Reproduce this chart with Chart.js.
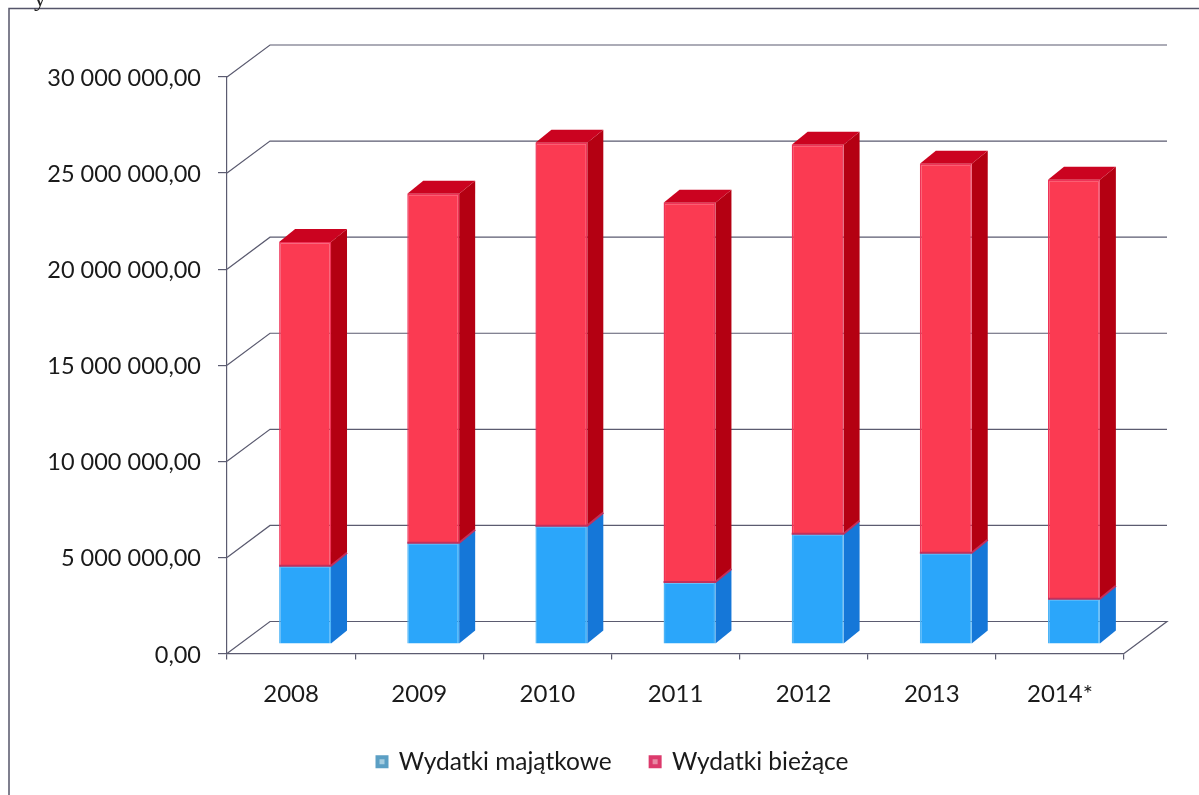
<!DOCTYPE html>
<html>
<head>
<meta charset="utf-8">
<style>
  html, body { margin: 0; padding: 0; background: #fff; }
  #wrap { width: 1199px; height: 795px; }
</style>
<script src="https://cdn.jsdelivr.net/npm/chart.js@4/dist/chart.umd.min.js"></script>
</head>
<body>
<div id="wrap"><canvas id="chart"></canvas></div>
<script>
const years = ['2008', '2009', '2010', '2011', '2012', '2013', '2014*'];
const wydatkiMajatkowe = [4070000, 5270000, 6160000, 3230000, 5740000, 4750000, 2350000];
const wydatkiBiezace = [16850000, 18160000, 19930000, 19730000, 20240000, 20240000, 21810000];

const FONT = 'Lato';
const TEXT = '#1a1a1a';
const LINE = '#5b5b70';
const WALL = { dx: 43, dy: -32 };   // depth of the back wall
const SHIFT = { dx: 14, dy: -9.5 }; // bars stand inside the floor
const SIDE = { dx: 16, dy: -13 };   // depth of each bar

const blueTheme = { front: '#2ba6fa', border: '#4db4f6', side: '#1577d8' };
const redTheme = { front: '#fb3a52', border: '#ee3357', side: '#b40012', top: '#cb0320' };

function fmt(v) {
  return v.toLocaleString('en-US').replace(/,/g, ' ') + ',00';
}

function poly(ctx, pts, fill) {
  ctx.beginPath();
  pts.forEach((p, i) => i ? ctx.lineTo(p[0], p[1]) : ctx.moveTo(p[0], p[1]));
  ctx.closePath();
  ctx.fillStyle = fill;
  ctx.fill();
}

// page frame and the descender of the text that was cut off above it
const framePlugin = {
  id: 'frame',
  // the value labels are clipped to the axis box, so let it reach the edge
  afterLayout(chart) {
    chart.scales.y.left = 0;
  },
  beforeDraw(chart) {
    const ctx = chart.ctx;
    ctx.save();
    ctx.strokeStyle = '#55556a';
    ctx.lineWidth = 1.5;
    ctx.beginPath();
    ctx.moveTo(9, 795);
    ctx.lineTo(9, 8.5);
    ctx.lineTo(1199, 8.5);
    ctx.stroke();
    ctx.fillStyle = '#222';
    ctx.font = '24px "Liberation Serif"';
    ctx.fillText('y', 34, 0);
    ctx.restore();
  }
};

// back wall gridlines, drawn from the value axis ticks
const wallPlugin = {
  id: 'wall',
  beforeDatasetsDraw(chart) {
    const { ctx, scales: { y }, chartArea: a } = chart;
    ctx.save();
    ctx.strokeStyle = LINE;
    ctx.lineWidth = 1.2;
    y.ticks.forEach(t => {
      const py = y.getPixelForValue(t.value);
      ctx.beginPath();
      ctx.moveTo(a.left, py);
      ctx.lineTo(a.left + WALL.dx, py + WALL.dy);
      ctx.lineTo(a.right + WALL.dx, py + WALL.dy);
      if (t.value === 0) ctx.lineTo(a.right, py);
      ctx.stroke();
    });
    ctx.restore();
  }
};

// side and top faces of the bars, chart.js paints the fronts on top
const bar3dPlugin = {
  id: 'bar3d',
  beforeDatasetsDraw(chart) {
    const ctx = chart.ctx;
    ctx.save();
    ctx.translate(SHIFT.dx, SHIFT.dy);
    const themes = [blueTheme, redTheme];
    themes.forEach((theme, d) => {
      chart.getDatasetMeta(d).data.forEach(bar => {
        const l = bar.x - bar.width / 2;
        const r = bar.x + bar.width / 2;
        poly(ctx, [[r, bar.y], [r + SIDE.dx, bar.y + SIDE.dy], [r + SIDE.dx, bar.base + SIDE.dy], [r, bar.base]], theme.side);
        if (theme.top) {
          poly(ctx, [[l, bar.y], [l + SIDE.dx, bar.y + SIDE.dy], [r + SIDE.dx, bar.y + SIDE.dy], [r, bar.y]], theme.top);
        }
      });
    });
  },
  afterDatasetsDraw(chart) {
    const ctx = chart.ctx;
    // the darker seam where the two series meet
    ctx.strokeStyle = '#c2305c';
    ctx.lineWidth = 2;
    chart.getDatasetMeta(0).data.forEach(bar => {
      const l = bar.x - bar.width / 2;
      const r = bar.x + bar.width / 2;
      ctx.beginPath();
      ctx.moveTo(l, bar.y);
      ctx.lineTo(r, bar.y);
      ctx.lineTo(r + SIDE.dx, bar.y + SIDE.dy);
      ctx.stroke();
    });
    ctx.restore();
  }
};

new Chart(document.getElementById('chart'), {
  type: 'bar',
  data: {
    labels: years,
    datasets: [
      {
        label: 'Wydatki majątkowe',
        data: wydatkiMajatkowe,
        backgroundColor: blueTheme.front,
        borderColor: blueTheme.border,
        borderWidth: 1.5,
        clip: false
      },
      {
        label: 'Wydatki bieżące',
        data: wydatkiBiezace,
        backgroundColor: redTheme.front,
        borderColor: redTheme.border,
        borderWidth: 1.5,
        clip: false
      }
    ]
  },
  plugins: [framePlugin, wallPlugin, bar3dPlugin],
  options: {
    responsive: true,
    maintainAspectRatio: false,
    animation: false,
    devicePixelRatio: 1,
    barPercentage: 0.405,
    categoryPercentage: 1,
    layout: {
      autoPadding: false,
      padding: { left: 102, right: 75, top: 77, bottom: 11 }
    },
    scales: {
      x: {
        stacked: true,
        afterFit(scale) { scale.height = 57; },
        grid: { drawOnChartArea: false, color: LINE, tickLength: 6, lineWidth: 1.2 },
        border: { color: LINE, width: 1.2 },
        ticks: { color: TEXT, font: { family: FONT, size: 24 }, padding: 20, maxRotation: 0 }
      },
      y: {
        stacked: true,
        min: 0,
        max: 30000000,
        afterFit(scale) { scale.width = 125; },
        grid: { drawOnChartArea: false, color: LINE, tickLength: 9, lineWidth: 1.2 },
        border: { color: LINE, width: 1.2 },
        ticks: {
          stepSize: 5000000,
          color: TEXT,
          font: { family: FONT, size: 23.5 },
          padding: 17,
          labelOffset: 1.5,
          callback: v => fmt(v)
        }
      }
    },
    plugins: {
      tooltip: { enabled: false },
      legend: {
        position: 'bottom',
        labels: {
          boxWidth: 9,
          boxHeight: 9,
          padding: 39,
          color: TEXT,
          font: { family: FONT, size: 24.5 },
          generateLabels() {
            return [
              { text: 'Wydatki majątkowe', fillStyle: '#a5cde0', strokeStyle: '#5b9fc4', lineWidth: 4, fontColor: TEXT },
              { text: 'Wydatki bieżące', fillStyle: '#e88aa5', strokeStyle: '#dc3a6c', lineWidth: 4, fontColor: TEXT }
            ];
          }
        }
      }
    }
  }
});
</script>
</body>
</html>
